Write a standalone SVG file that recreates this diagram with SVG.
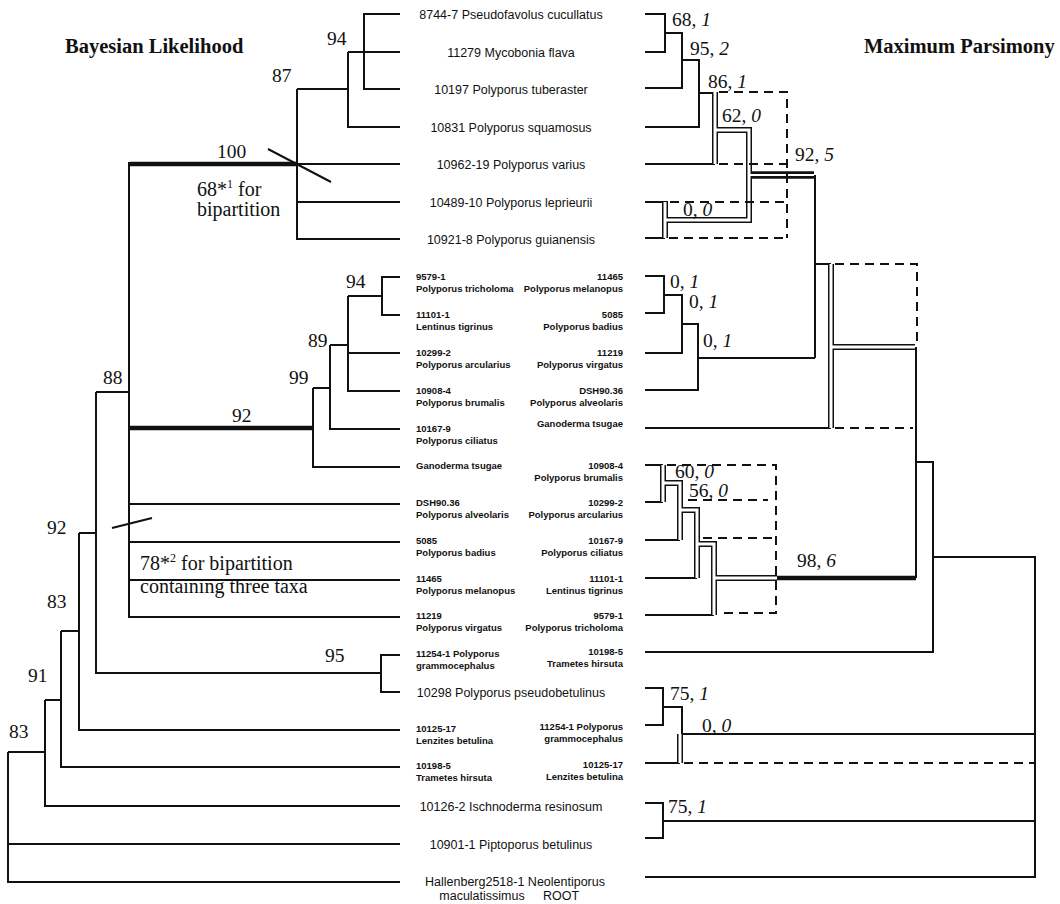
<svg xmlns="http://www.w3.org/2000/svg" width="1060" height="904" viewBox="0 0 1060 904">
<style>
.ln{fill:none;stroke:#111;stroke-width:2}
.tk{fill:none;stroke:#111;stroke-width:4.5}
.ds{fill:none;stroke:#111;stroke-width:2;stroke-dasharray:9 6}
.pb{fill:none;stroke:#111;stroke-width:6}
.pw{fill:none;stroke:#fff;stroke-width:3}
.pb2{fill:none;stroke:#111;stroke-width:7.5}
.pw2{fill:none;stroke:#fff;stroke-width:2}
.ttl{font-family:"Liberation Serif",serif;font-weight:bold;font-size:20.5px;fill:#111}
.bs{font-family:"Liberation Serif",serif;font-size:19.5px;fill:#111}
.an{font-family:"Liberation Serif",serif;font-size:20px;fill:#111}
.it{font-style:italic}
.tx{font-family:"Liberation Sans",Arial,sans-serif;font-size:12.5px;fill:#111;text-anchor:middle}
.tl{font-family:"Liberation Sans",Arial,sans-serif;font-size:9.5px;font-weight:bold;fill:#111}
.tr{font-family:"Liberation Sans",Arial,sans-serif;font-size:9.5px;font-weight:bold;fill:#111;text-anchor:end}
</style>

<g id="titles">
<text class="ttl" x="65" y="53">Bayesian Likelihood</text>
<text class="ttl" x="864" y="53">Maximum Parsimony</text>
</g>

<g id="connectors">
<g id="bayes-tree">
<path class="ln" d="M400,14 H364 V89 H400 M348,52 H400 M348,52 V127 H400 M297,89 H348 M297,89 V239 H400 M297,164 H400 M297,202 H400"/>
<path class="tk" d="M130,164 H297 M129,428 H313"/>
<path class="ln" d="M268,149 L331,182 M112,528 L152,518"/>
<path class="ln" d="M400,277 H382 V315 H400 M348,296 H382 M348,296 V391 H400 M348,353 H400 M330,345 H348 M330,345 V429 H400 M313,388 H330 M313,388 V467 H400"/>
<path class="ln" d="M129,162 V617 H400 M129,504 H400 M129,542 H400 M129,580 H400 M96,392 H129 M96,392 V673 H381 M400,655 H381 V692 H400 M79,533 H96 M79,533 V730 H400 M61,631 H79 M61,631 V767 H400 M45,700 H61 M45,700 V806 H400 M8,752 H45 M8,752 V882 H400 M8,844 H400"/>
</g>
<g id="parsimony-tree">
<path class="ln" d="M645,14 H665 V52 H645 M665,33 H682 V88 H645 M682,60 H699 V127 H645 M699,93 H715 M645,164 H715 M645,202 H668 M645,238 H665"/>
<path class="ln" d="M815,175 V358 M645,276 H664 V313 H645 M664,295 H682 V353 H645 M682,324 H698 V390 H645 M698,358 H815 M815,264 H831 M645,428 H831"/>
<path class="ln" d="M916,347 V578 M916,462 H933 V652 H645 M933,557 H1035 V877 H645"/>
<path class="tk" d="M777,578 H916"/>
<path class="ln" d="M645,465 H663 M645,502 H663 M645,540 H680 M645,578 H697 M645,615 H714"/>
<path class="ln" d="M645,688 H663 V725 H645 M663,707 H682 V734 H1035 M645,763 H680 M645,803 H663 V838 H645 M663,821 H1035"/>
<path class="pb" d="M715,92 V164 M715,130 H749 V220 H665 M665,202 V238 M831,264 V428 M831,347 H915 M663,465 V502 M663,483 H680 V540 M680,510 H697 V578 M697,544 H714 V615 M714,578 H777 M680,734 V763"/>
<path class="pb2" d="M749,175 H814"/>
<path class="pw" d="M715,92 V164 M715,130 H749 V220 H665 M665,202 V238 M831,264 V428 M831,347 H915 M663,465 V502 M663,483 H680 V540 M680,510 H697 V578 M697,544 H714 V615 M714,578 H777 M680,734 V763"/>
<path class="pw2" d="M749,175 H814"/>
<path class="ds" d="M719,92 H787 V238 M719,164 H787 M670,202 H787 M669,238 H787"/>
<path class="ds" d="M835,264 H917 V347 M835,428 H913"/>
<path class="ds" d="M667,465 H776 V613 H718 M688,500 H768 M703,538 H776"/>
<path class="ds" d="M684,763 H1035"/>
</g>
</g>

<g id="bayes-support">
<text class="bs" x="327" y="45">94</text>
<text class="bs" x="272" y="82">87</text>
<text class="bs" x="217" y="158">100</text>
<text class="an" x="197" y="196">68*<tspan font-size="12" dy="-8">1</tspan><tspan dy="8"> for</tspan></text>
<text class="an" x="197" y="216">bipartition</text>
<text class="bs" x="346" y="288">94</text>
<text class="bs" x="308" y="347">89</text>
<text class="bs" x="289" y="384">99</text>
<text class="bs" x="232" y="422">92</text>
<text class="bs" x="103" y="384">88</text>
<text class="bs" x="47" y="534">92</text>
<text class="an" x="140" y="570">78*<tspan font-size="12" dy="-8">2</tspan><tspan dy="8"> for bipartition</tspan></text>
<text class="an" x="140" y="593">containing three taxa</text>
<text class="bs" x="47" y="608">83</text>
<text class="bs" x="325" y="662">95</text>
<text class="bs" x="28" y="682">91</text>
<text class="bs" x="9" y="738">83</text>
</g>

<g id="parsimony-support">
<text class="bs" x="672" y="26">68, <tspan class="it">1</tspan></text>
<text class="bs" x="690" y="55">95, <tspan class="it">2</tspan></text>
<text class="bs" x="708" y="88">86, <tspan class="it">1</tspan></text>
<text class="bs" x="722" y="122">62, <tspan class="it">0</tspan></text>
<text class="bs" x="795" y="161">92, <tspan class="it">5</tspan></text>
<text class="bs" x="683" y="216">0, <tspan class="it">0</tspan></text>
<text class="bs" x="670" y="288">0, <tspan class="it">1</tspan></text>
<text class="bs" x="689" y="308">0, <tspan class="it">1</tspan></text>
<text class="bs" x="703" y="347">0, <tspan class="it">1</tspan></text>
<text class="bs" x="675" y="478">60, <tspan class="it">0</tspan></text>
<text class="bs" x="689" y="497">56, <tspan class="it">0</tspan></text>
<text class="bs" x="797" y="567">98, <tspan class="it">6</tspan></text>
<text class="bs" x="670" y="700">75, <tspan class="it">1</tspan></text>
<text class="bs" x="702" y="732">0, <tspan class="it">0</tspan></text>
<text class="bs" x="668" y="813">75, <tspan class="it">1</tspan></text>
</g>

<g id="taxa-shared">
<text class="tx" x="511" y="18.5">8744-7 Pseudofavolus cucullatus</text>
<text class="tx" x="511" y="56.5">11279 Mycobonia flava</text>
<text class="tx" x="511" y="93.5">10197 Polyporus tuberaster</text>
<text class="tx" x="511" y="131.5">10831 Polyporus squamosus</text>
<text class="tx" x="511" y="168.5">10962-19 Polyporus varius</text>
<text class="tx" x="511" y="206.5">10489-10 Polyporus leprieurii</text>
<text class="tx" x="511" y="243.5">10921-8 Polyporus guianensis</text>
<text class="tx" x="511" y="697">10298 Polyporus pseudobetulinus</text>
<text class="tx" x="511" y="811">10126-2 Ischnoderma resinosum</text>
<text class="tx" x="511" y="849">10901-1 Piptoporus betulinus</text>
<text class="tx" x="515" y="886">Hallenberg2518-1 Neolentiporus</text>
<text class="tx" x="482" y="900">maculatissimus</text>
<text class="tx" x="561" y="900">ROOT</text>
</g>

<g id="taxa-bayes">
<text class="tl" x="416" y="280">9579-1</text><text class="tl" x="416" y="292">Polyporus tricholoma</text>
<text class="tl" x="416" y="318">11101-1</text><text class="tl" x="416" y="330">Lentinus tigrinus</text>
<text class="tl" x="416" y="356">10299-2</text><text class="tl" x="416" y="368">Polyporus arcularius</text>
<text class="tl" x="416" y="394">10908-4</text><text class="tl" x="416" y="406">Polyporus brumalis</text>
<text class="tl" x="416" y="432">10167-9</text><text class="tl" x="416" y="444">Polyporus ciliatus</text>
<text class="tl" x="416" y="469">Ganoderma tsugae</text>
<text class="tl" x="416" y="506">DSH90.36</text><text class="tl" x="416" y="518">Polyporus alveolaris</text>
<text class="tl" x="416" y="544">5085</text><text class="tl" x="416" y="556">Polyporus badius</text>
<text class="tl" x="416" y="582">11465</text><text class="tl" x="416" y="594">Polyporus melanopus</text>
<text class="tl" x="416" y="619">11219</text><text class="tl" x="416" y="631">Polyporus virgatus</text>
<text class="tl" x="416" y="657">11254-1 Polyporus</text><text class="tl" x="416" y="669">grammocephalus</text>
<text class="tl" x="416" y="732">10125-17</text><text class="tl" x="416" y="744">Lenzites betulina</text>
<text class="tl" x="416" y="769">10198-5</text><text class="tl" x="416" y="781">Trametes hirsuta</text>
</g>

<g id="taxa-parsimony">
<text class="tr" x="623" y="280">11465</text><text class="tr" x="623" y="292">Polyporus melanopus</text>
<text class="tr" x="623" y="318">5085</text><text class="tr" x="623" y="330">Polyporus badius</text>
<text class="tr" x="623" y="356">11219</text><text class="tr" x="623" y="368">Polyporus virgatus</text>
<text class="tr" x="623" y="394">DSH90.36</text><text class="tr" x="623" y="406">Polyporus alveolaris</text>
<text class="tr" x="623" y="427">Ganoderma tsugae</text>
<text class="tr" x="623" y="469">10908-4</text><text class="tr" x="623" y="481">Polyporus brumalis</text>
<text class="tr" x="623" y="506">10299-2</text><text class="tr" x="623" y="518">Polyporus arcularius</text>
<text class="tr" x="623" y="544">10167-9</text><text class="tr" x="623" y="556">Polyporus ciliatus</text>
<text class="tr" x="623" y="582">11101-1</text><text class="tr" x="623" y="594">Lentinus tigrinus</text>
<text class="tr" x="623" y="619">9579-1</text><text class="tr" x="623" y="631">Polyporus tricholoma</text>
<text class="tr" x="623" y="655">10198-5</text><text class="tr" x="623" y="667">Trametes hirsuta</text>
<text class="tr" x="623" y="730">11254-1 Polyporus</text><text class="tr" x="623" y="742">grammocephalus</text>
<text class="tr" x="623" y="768">10125-17</text><text class="tr" x="623" y="780">Lenzites betulina</text>
</g>
</svg>
